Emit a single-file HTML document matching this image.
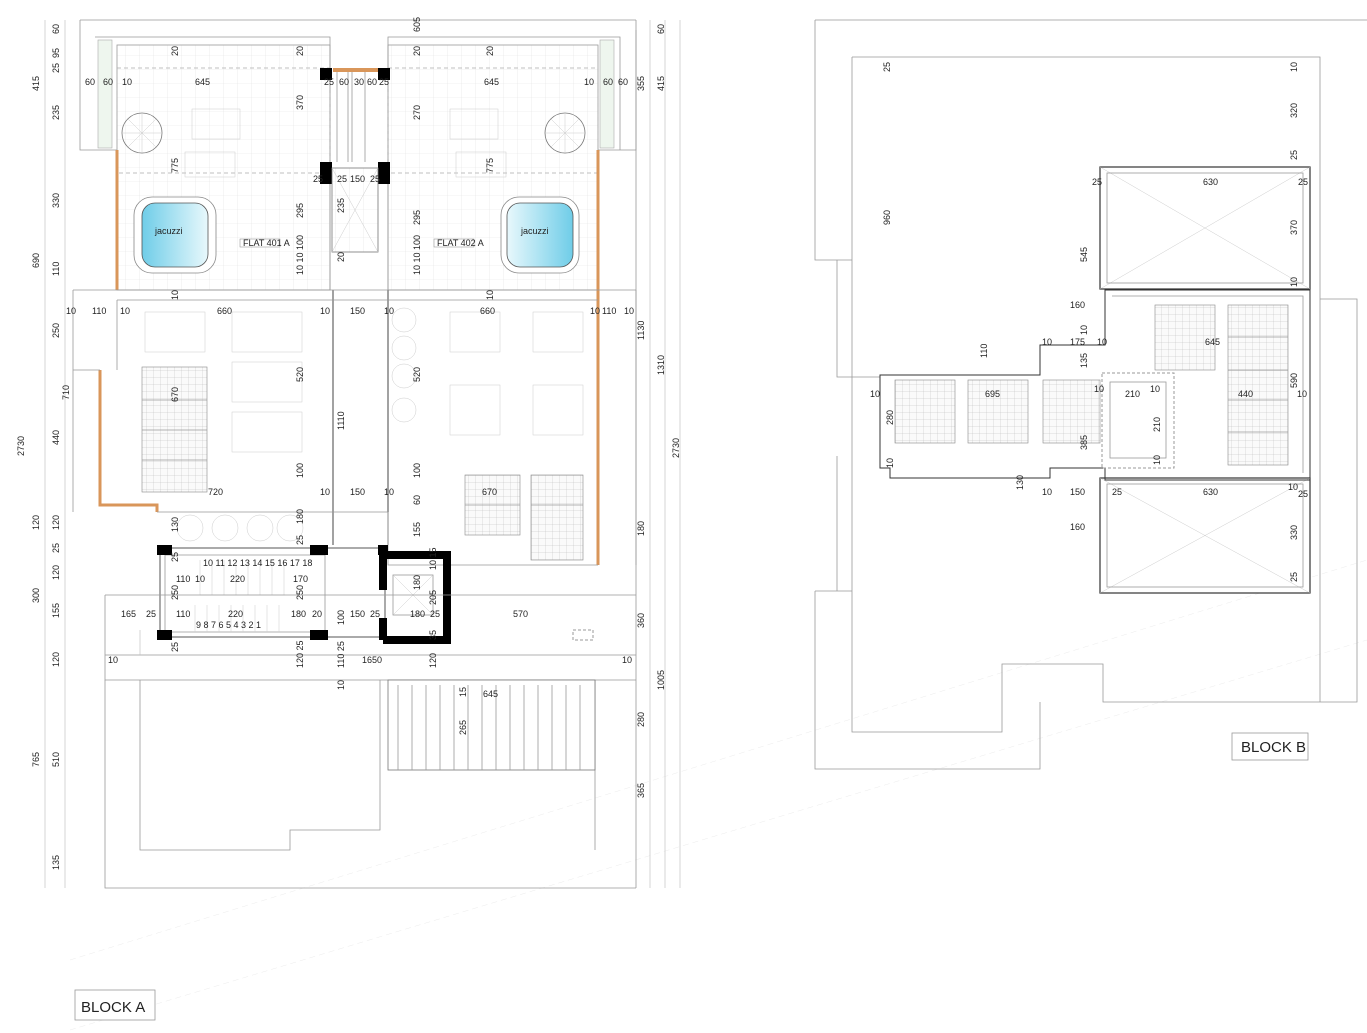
<!DOCTYPE html>
<html><head><meta charset="utf-8"><style>
html,body{margin:0;padding:0;background:#fff}
svg{display:block}
text{font-family:"Liberation Sans",sans-serif;font-size:9px;fill:#222}
.l{stroke:#999;stroke-width:0.8;fill:none}
.d{stroke:#bbb;stroke-width:0.6;fill:none}
.k{stroke:#444;stroke-width:1;fill:none}
.g{stroke:#ccc;stroke-width:0.5;fill:none}
.o{stroke:#d9965a;stroke-width:3;fill:none}
</style></head><body>
<svg width="1367" height="1033" viewBox="0 0 1367 1033" xmlns="http://www.w3.org/2000/svg">
<defs>
<pattern id="grid" width="14" height="14" patternUnits="userSpaceOnUse"><path d="M14 0V14H0" stroke="#e2e2e2" stroke-width="0.6" fill="none"/></pattern>
<pattern id="sp" width="7" height="7" patternUnits="userSpaceOnUse"><rect width="7" height="7" fill="#fafafa"/><path d="M7 0V7H0" stroke="#bbb" stroke-width="0.5" fill="none"/></pattern>
<linearGradient id="wat" x1="0" x2="1"><stop offset="0" stop-color="#6fcde8"/><stop offset="1" stop-color="#e8f8fc"/></linearGradient>
</defs>

<path d="M70 1030 L1367 640" stroke="#ececec" stroke-width="0.5" stroke-dasharray="6 4" fill="none"/>
<path d="M70 960 L1367 560" stroke="#ececec" stroke-width="0.5" stroke-dasharray="6 4" fill="none"/>

<!-- ============ BLOCK A ============ -->
<path d="M45 20V888 M65 20V888 M650 20V888 M665 20V888 M680 20V888" class="d"/>
<path d="M80 20H636 M636 20V888" class="l"/>
<path d="M80 20V150 H117 M636 30V150 H598" class="l"/>
<path d="M95 37H330V290 M388 290V37H620V150" class="l"/>
<path d="M107 45V148 M610 45V148" class="l"/>
<rect x="98" y="40" width="14" height="108" fill="#eef6ee" stroke="#aaa" stroke-width="0.6"/>
<rect x="600" y="40" width="14" height="108" fill="#eef6ee" stroke="#aaa" stroke-width="0.6"/>
<rect x="117" y="45" width="213" height="245" fill="url(#grid)" stroke="#999" stroke-width="0.8"/>
<rect x="388" y="45" width="210" height="245" fill="url(#grid)" stroke="#999" stroke-width="0.8"/>
<rect x="117" y="68" width="213" height="105" fill="none" stroke="#aaa" stroke-dasharray="4 3" stroke-width="0.7"/>
<rect x="388" y="68" width="210" height="105" fill="none" stroke="#aaa" stroke-dasharray="4 3" stroke-width="0.7"/>
<circle cx="142" cy="133" r="20" fill="none" stroke="#777" stroke-width="0.8"/>
<circle cx="565" cy="133" r="20" fill="none" stroke="#777" stroke-width="0.8"/>
<path d="M142 113V153M122 133H162M128 119L156 147M156 119L128 147M565 113V153M545 133H585M551 119L579 147M579 119L551 147" class="g"/>
<rect x="192" y="109" width="48" height="30" class="g"/><rect x="185" y="152" width="50" height="25" class="g"/>
<rect x="450" y="109" width="48" height="30" class="g"/><rect x="456" y="152" width="50" height="25" class="g"/>
<rect x="134" y="197" width="82" height="76" rx="18" fill="#fff" stroke="#888" stroke-width="0.8"/>
<rect x="142" y="203" width="66" height="64" rx="13" fill="url(#wat)" stroke="#555" stroke-width="0.8"/>
<rect x="501" y="197" width="78" height="76" rx="18" fill="#fff" stroke="#888" stroke-width="0.8"/>
<rect x="507" y="203" width="66" height="64" rx="13" fill="url(#wat)" stroke="#555" stroke-width="0.8" transform="scale(-1 1) translate(-1080 0)"/>
<text x="155" y="234" font-size="8">jacuzzi</text>
<text x="521" y="234" font-size="8">jacuzzi</text>
<rect x="240" y="239" width="40" height="8" fill="#fff" stroke="#888" stroke-width="0.5"/><text x="243" y="246" font-size="5.5">FLAT 401 A</text>
<rect x="434" y="239" width="40" height="8" fill="#fff" stroke="#888" stroke-width="0.5"/><text x="437" y="246" font-size="5.5">FLAT 402 A</text>
<rect x="333" y="68" width="50" height="4" fill="#d9965a"/>
<rect x="320" y="68" width="12" height="12" fill="#000"/><rect x="378" y="68" width="12" height="12" fill="#000"/>
<rect x="320" y="162" width="12" height="22" fill="#000"/><rect x="378" y="162" width="12" height="22" fill="#000"/>
<path d="M337 72V162 M348 72V162 M352 72V162 M365 72V162" class="l"/>
<rect x="332" y="168" width="46" height="84" fill="url(#grid)" stroke="#777" stroke-width="0.8"/>
<path d="M332 168L378 252M378 168L332 252" class="g"/>
<path d="M333 290V545 M388 290V545" class="k"/>
<path class="o" d="M117 150V290 M100 370V505H157V512 M598 150V565"/>
<path d="M73 290H636 M73 290V512 M636 290V565 M100 370H73" class="l"/>
<path d="M117 300H598 M117 300V370" class="l"/>
<rect x="142" y="367" width="65" height="125" fill="url(#sp)" stroke="#888" stroke-width="0.6"/>
<path d="M142 400H207M142 430H207M142 460H207" class="l"/>
<rect x="232" y="312" width="70" height="40" class="g"/><rect x="232" y="362" width="70" height="40" class="g"/><rect x="232" y="412" width="70" height="40" class="g"/>
<rect x="145" y="312" width="60" height="40" class="g"/>
<rect x="450" y="312" width="50" height="40" class="g"/><rect x="533" y="312" width="50" height="40" class="g"/>
<rect x="450" y="385" width="50" height="50" class="g"/><rect x="533" y="385" width="50" height="50" class="g"/>
<circle cx="404" cy="320" r="12" class="g"/><circle cx="404" cy="348" r="12" class="g"/><circle cx="404" cy="376" r="12" class="g"/><circle cx="404" cy="410" r="12" class="g"/>
<rect x="465" y="475" width="55" height="60" fill="url(#sp)" stroke="#888" stroke-width="0.6"/>
<rect x="531" y="475" width="52" height="85" fill="url(#sp)" stroke="#888" stroke-width="0.6"/>
<path d="M465 505H520M531 505H583" class="l"/>
<circle cx="190" cy="528" r="13" class="g"/><circle cx="225" cy="528" r="13" class="g"/><circle cx="260" cy="528" r="13" class="g"/><circle cx="290" cy="528" r="13" class="g"/>
<path d="M157 512H388 M388 512V565H598" class="l"/>
<rect x="160" y="548" width="225" height="89" fill="#fff" stroke="#555" stroke-width="1"/>
<path d="M165 555H325V632H165Z" class="l"/>
<path d="M200 560V595M212 560V595M224 560V595M236 560V595M248 560V595M260 560V595M272 560V595M284 560V595 M195 605V632M207 605V632M219 605V632M231 605V632M243 605V632M255 605V632M267 605V632M279 605V632M200 595H285" class="g"/>
<rect x="157" y="545" width="15" height="10" fill="#000"/><rect x="310" y="545" width="18" height="10" fill="#000"/><rect x="378" y="545" width="10" height="10" fill="#000"/>
<rect x="157" y="630" width="15" height="10" fill="#000"/><rect x="310" y="630" width="18" height="10" fill="#000"/>
<path d="M383 555H447V640H383" fill="none" stroke="#000" stroke-width="8"/>
<path d="M383 555V590M383 618V640" stroke="#000" stroke-width="8"/>
<rect x="393" y="575" width="40" height="40" class="l"/><path d="M393 575L433 615M433 575L393 615" class="g"/>
<path d="M105 595H636 M105 595V680H636 M105 655H636" class="l"/>
<path d="M140 630V655" class="d"/>
<rect x="573" y="630" width="20" height="10" fill="none" stroke="#999" stroke-dasharray="3 2"/>
<path d="M105 680V888H636 M140 680V850H290V830H380V680 M595 680V850" class="l"/>
<rect x="388" y="680" width="207" height="90" fill="#fff" stroke="#777" stroke-width="0.8"/>
<path d="M398 685V770M412 685V770M426 685V770M440 685V770M454 685V770M468 685V770M482 685V770M496 685V770M510 685V770M524 685V770M538 685V770M552 685V770M566 685V770M580 685V770" class="l"/>
<rect x="75" y="990" width="80" height="30" fill="#fff" stroke="#999" stroke-width="0.8"/>
<text x="81" y="1012" style="font-size:15px">BLOCK A</text>

<g>
<text x="85" y="85">60</text><text x="103" y="85">60</text><text x="122" y="85">10</text><text x="195" y="85">645</text><text x="324" y="85">25</text><text x="339" y="85">60</text><text x="354" y="85">30</text><text x="367" y="85">60</text><text x="379" y="85">25</text><text x="484" y="85">645</text><text x="584" y="85">10</text><text x="603" y="85">60</text><text x="618" y="85">60</text>
<text x="313" y="182">25</text><text x="337" y="182">25</text><text x="350" y="182">150</text><text x="370" y="182">25</text>
<text x="66" y="314">10</text><text x="92" y="314">110</text><text x="120" y="314">10</text><text x="217" y="314">660</text><text x="320" y="314">10</text><text x="350" y="314">150</text><text x="384" y="314">10</text><text x="480" y="314">660</text><text x="590" y="314">10</text><text x="602" y="314">110</text><text x="624" y="314">10</text>
<text x="208" y="495">720</text><text x="320" y="495">10</text><text x="350" y="495">150</text><text x="384" y="495">10</text><text x="482" y="495">670</text>
<text x="176" y="582">110</text><text x="195" y="582">10</text><text x="230" y="582">220</text><text x="293" y="582">170</text>
<text x="121" y="617">165</text><text x="146" y="617">25</text><text x="176" y="617">110</text><text x="228" y="617">220</text><text x="291" y="617">180</text><text x="312" y="617">20</text><text x="350" y="617">150</text><text x="370" y="617">25</text><text x="410" y="617">180</text><text x="430" y="617">25</text><text x="513" y="617">570</text>
<text x="108" y="663">10</text><text x="362" y="663">1650</text><text x="622" y="663">10</text><text x="483" y="697">645</text>
<text x="203" y="566" font-size="6">10 11 12 13 14 15 16 17 18</text><text x="196" y="628" font-size="6">9 8 7 6 5 4 3 2 1</text>
</g>
<g>
<text transform="translate(59,34) rotate(-90)">60</text><text transform="translate(59,58) rotate(-90)">95</text><text transform="translate(59,73) rotate(-90)">25</text><text transform="translate(39,91) rotate(-90)">415</text><text transform="translate(59,120) rotate(-90)">235</text><text transform="translate(59,208) rotate(-90)">330</text><text transform="translate(39,268) rotate(-90)">690</text><text transform="translate(59,276) rotate(-90)">110</text><text transform="translate(59,338) rotate(-90)">250</text><text transform="translate(69,400) rotate(-90)">710</text><text transform="translate(59,445) rotate(-90)">440</text><text transform="translate(24,456) rotate(-90)">2730</text><text transform="translate(39,530) rotate(-90)">120</text><text transform="translate(59,530) rotate(-90)">120</text><text transform="translate(59,553) rotate(-90)">25</text><text transform="translate(39,603) rotate(-90)">300</text><text transform="translate(59,580) rotate(-90)">120</text><text transform="translate(59,618) rotate(-90)">155</text><text transform="translate(59,667) rotate(-90)">120</text><text transform="translate(39,767) rotate(-90)">765</text><text transform="translate(59,767) rotate(-90)">510</text><text transform="translate(59,870) rotate(-90)">135</text>
<text transform="translate(664,34) rotate(-90)">60</text><text transform="translate(664,91) rotate(-90)">415</text><text transform="translate(644,91) rotate(-90)">355</text><text transform="translate(644,340) rotate(-90)">1130</text><text transform="translate(664,375) rotate(-90)">1310</text><text transform="translate(679,458) rotate(-90)">2730</text><text transform="translate(644,536) rotate(-90)">180</text><text transform="translate(644,628) rotate(-90)">360</text><text transform="translate(664,690) rotate(-90)">1005</text><text transform="translate(644,727) rotate(-90)">280</text><text transform="translate(644,798) rotate(-90)">365</text>
<text transform="translate(178,56) rotate(-90)">20</text><text transform="translate(303,56) rotate(-90)">20</text><text transform="translate(303,110) rotate(-90)">370</text><text transform="translate(420,56) rotate(-90)">20</text><text transform="translate(420,120) rotate(-90)">270</text><text transform="translate(493,56) rotate(-90)">20</text><text transform="translate(420,32) rotate(-90)">605</text>
<text transform="translate(178,173) rotate(-90)">775</text><text transform="translate(493,173) rotate(-90)">775</text><text transform="translate(303,218) rotate(-90)">295</text><text transform="translate(420,225) rotate(-90)">295</text><text transform="translate(344,213) rotate(-90)">235</text><text transform="translate(344,262) rotate(-90)">20</text>
<text transform="translate(303,275) rotate(-90)">10 10 100</text><text transform="translate(420,275) rotate(-90)">10 10 100</text><text transform="translate(178,300) rotate(-90)">10</text><text transform="translate(493,300) rotate(-90)">10</text>
<text transform="translate(178,402) rotate(-90)">670</text><text transform="translate(303,382) rotate(-90)">520</text><text transform="translate(420,382) rotate(-90)">520</text><text transform="translate(344,430) rotate(-90)">1110</text><text transform="translate(303,478) rotate(-90)">100</text><text transform="translate(420,478) rotate(-90)">100</text><text transform="translate(420,505) rotate(-90)">60</text>
<text transform="translate(178,532) rotate(-90)">130</text><text transform="translate(303,524) rotate(-90)">180</text><text transform="translate(420,537) rotate(-90)">155</text><text transform="translate(178,562) rotate(-90)">25</text><text transform="translate(303,545) rotate(-90)">25</text>
<text transform="translate(178,600) rotate(-90)">250</text><text transform="translate(303,600) rotate(-90)">250</text><text transform="translate(344,625) rotate(-90)">100</text><text transform="translate(436,605) rotate(-90)">205</text><text transform="translate(420,590) rotate(-90)">180</text><text transform="translate(436,570) rotate(-90)">10 15</text>
<text transform="translate(178,652) rotate(-90)">25</text><text transform="translate(303,668) rotate(-90)">120 25</text><text transform="translate(344,668) rotate(-90)">110 25</text><text transform="translate(436,668) rotate(-90)">120</text><text transform="translate(436,640) rotate(-90)">35</text><text transform="translate(344,690) rotate(-90)">10</text><text transform="translate(466,697) rotate(-90)">15</text><text transform="translate(466,735) rotate(-90)">265</text>
</g>

<!-- ============ BLOCK B ============ -->
<path d="M815 20H1367 M815 20V260H852 M837 260V377H880 M837 456V591 M815 591H852V732H1002V664H1103V702H1357V299H1320 M815 591V769H1040V702 M852 57H1320V702 M852 57V591" class="l"/>
<rect x="1100" y="167" width="210" height="122" fill="#fff" stroke="#333" stroke-width="1.2"/>
<path d="M1100 167L1310 289M1310 167L1100 289" class="g"/>
<rect x="1107" y="173" width="196" height="110" class="l"/>
<rect x="1100" y="478" width="210" height="115" fill="#fff" stroke="#333" stroke-width="1.2"/>
<path d="M1100 478L1310 593M1310 478L1100 593" class="g"/>
<rect x="1107" y="484" width="196" height="103" class="l"/>
<path d="M1105 290H1310V480H1105V468H1050V478H890V468H880V375H1040V345H1105Z" fill="none" stroke="#333" stroke-width="1"/>
<path d="M1112 296H1303V473" class="l"/>
<rect x="895" y="380" width="60" height="63" fill="url(#sp)" stroke="#888" stroke-width="0.6"/>
<rect x="968" y="380" width="60" height="63" fill="url(#sp)" stroke="#888" stroke-width="0.6"/>
<rect x="1043" y="380" width="57" height="63" fill="url(#sp)" stroke="#888" stroke-width="0.6"/>
<rect x="1155" y="305" width="60" height="65" fill="url(#sp)" stroke="#888" stroke-width="0.6"/>
<rect x="1228" y="305" width="60" height="160" fill="url(#sp)" stroke="#888" stroke-width="0.6"/>
<path d="M1228 337H1288M1228 370H1288M1228 400H1288M1228 432H1288" class="l"/>
<rect x="1102" y="373" width="72" height="95" fill="none" stroke="#999" stroke-dasharray="3 2"/>
<rect x="1110" y="382" width="56" height="76" class="l"/>
<g>
<text x="1203" y="185">630</text><text x="1092" y="185">25</text><text x="1298" y="185">25</text>
<text x="1205" y="345">645</text><text x="1070" y="308">160</text><text x="1042" y="345">10</text><text x="1070" y="345">175</text><text x="1097" y="345">10</text>
<text x="870" y="397">10</text><text x="985" y="397">695</text><text x="1125" y="397">210</text><text x="1094" y="392">10</text><text x="1150" y="392">10</text><text x="1238" y="397">440</text><text x="1297" y="397">10</text>
<text x="1042" y="495">10</text><text x="1070" y="495">150</text><text x="1112" y="495">25</text><text x="1203" y="495">630</text><text x="1288" y="490">10</text><text x="1298" y="497">25</text><text x="1070" y="530">160</text>
<text x="1241" y="752" style="font-size:15px">BLOCK B</text>
<text transform="translate(890,72) rotate(-90)">25</text><text transform="translate(890,225) rotate(-90)">960</text><text transform="translate(1297,72) rotate(-90)">10</text><text transform="translate(1297,118) rotate(-90)">320</text><text transform="translate(1297,160) rotate(-90)">25</text><text transform="translate(1297,235) rotate(-90)">370</text><text transform="translate(1297,287) rotate(-90)">10</text><text transform="translate(1087,262) rotate(-90)">545</text><text transform="translate(987,358) rotate(-90)">110</text><text transform="translate(1087,335) rotate(-90)">10</text><text transform="translate(1087,368) rotate(-90)">135</text><text transform="translate(1297,388) rotate(-90)">590</text><text transform="translate(893,425) rotate(-90)">280</text><text transform="translate(893,468) rotate(-90)">10</text><text transform="translate(1087,450) rotate(-90)">385</text><text transform="translate(1160,432) rotate(-90)">210</text><text transform="translate(1160,465) rotate(-90)">10</text><text transform="translate(1023,490) rotate(-90)">130</text><text transform="translate(1297,540) rotate(-90)">330</text><text transform="translate(1297,582) rotate(-90)">25</text>
</g>
<rect x="1232" y="733" width="76" height="27" fill="none" stroke="#999" stroke-width="0.8"/>
</svg>
</body></html>
